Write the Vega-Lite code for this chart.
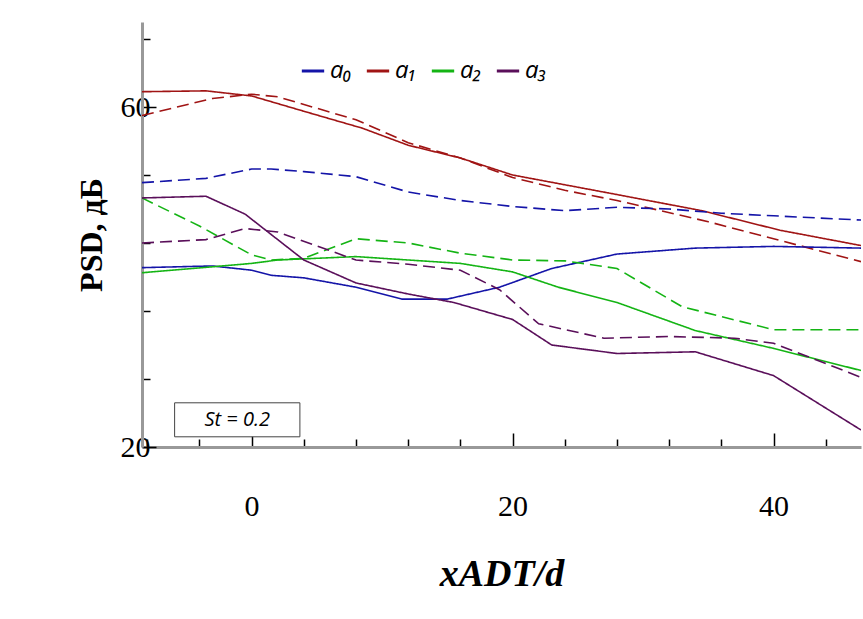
{
  "$schema": "https://vega.github.io/schema/vega-lite/v6.json",
  "autosize": "none",
  "width": 719,
  "height": 425,
  "padding": {"left": 142, "top": 22, "right": 2, "bottom": 172},
  "background": "white",
  "config": {"view": {"stroke": null}},
  "datasets": {
    "lines": [
      {"s": "a₁", "st": "solid", "x": -8.4, "y": 61.8}, {"s": "a₁", "st": "solid", "x": -3.5, "y": 61.9}, {"s": "a₁", "st": "solid", "x": 0, "y": 61.3}, {"s": "a₁", "st": "solid", "x": 4, "y": 59.5}, {"s": "a₁", "st": "solid", "x": 8.5, "y": 57.5}, {"s": "a₁", "st": "solid", "x": 12, "y": 55.5}, {"s": "a₁", "st": "solid", "x": 16, "y": 54}, {"s": "a₁", "st": "solid", "x": 20, "y": 52}, {"s": "a₁", "st": "solid", "x": 28, "y": 49.7}, {"s": "a₁", "st": "solid", "x": 34.5, "y": 47.8}, {"s": "a₁", "st": "solid", "x": 40.5, "y": 45.5}, {"s": "a₁", "st": "solid", "x": 46.7, "y": 43.7},
      {"s": "a₁", "st": "dash", "x": -8.4, "y": 59}, {"s": "a₁", "st": "dash", "x": -3, "y": 61}, {"s": "a₁", "st": "dash", "x": 0, "y": 61.5}, {"s": "a₁", "st": "dash", "x": 2, "y": 61.2}, {"s": "a₁", "st": "dash", "x": 8, "y": 58.5}, {"s": "a₁", "st": "dash", "x": 12, "y": 55.8}, {"s": "a₁", "st": "dash", "x": 16, "y": 54}, {"s": "a₁", "st": "dash", "x": 20, "y": 51.7}, {"s": "a₁", "st": "dash", "x": 24, "y": 50.2}, {"s": "a₁", "st": "dash", "x": 28, "y": 49}, {"s": "a₁", "st": "dash", "x": 35, "y": 46.5}, {"s": "a₁", "st": "dash", "x": 40, "y": 44.5}, {"s": "a₁", "st": "dash", "x": 46.7, "y": 41.8},
      {"s": "a₀", "st": "solid", "x": -8.4, "y": 41.1}, {"s": "a₀", "st": "solid", "x": -3, "y": 41.3}, {"s": "a₀", "st": "solid", "x": 0, "y": 40.8}, {"s": "a₀", "st": "solid", "x": 1.5, "y": 40.2}, {"s": "a₀", "st": "solid", "x": 4, "y": 39.9}, {"s": "a₀", "st": "solid", "x": 8, "y": 38.8}, {"s": "a₀", "st": "solid", "x": 11.5, "y": 37.4}, {"s": "a₀", "st": "solid", "x": 15, "y": 37.4}, {"s": "a₀", "st": "solid", "x": 19, "y": 38.8}, {"s": "a₀", "st": "solid", "x": 23, "y": 41}, {"s": "a₀", "st": "solid", "x": 28, "y": 42.7}, {"s": "a₀", "st": "solid", "x": 34, "y": 43.4}, {"s": "a₀", "st": "solid", "x": 40, "y": 43.6}, {"s": "a₀", "st": "solid", "x": 46.7, "y": 43.4},
      {"s": "a₀", "st": "dash", "x": -8.4, "y": 51.1}, {"s": "a₀", "st": "dash", "x": -3.5, "y": 51.6}, {"s": "a₀", "st": "dash", "x": 0, "y": 52.7}, {"s": "a₀", "st": "dash", "x": 1.5, "y": 52.7}, {"s": "a₀", "st": "dash", "x": 4, "y": 52.4}, {"s": "a₀", "st": "dash", "x": 8, "y": 51.8}, {"s": "a₀", "st": "dash", "x": 12, "y": 50}, {"s": "a₀", "st": "dash", "x": 16, "y": 49}, {"s": "a₀", "st": "dash", "x": 20, "y": 48.3}, {"s": "a₀", "st": "dash", "x": 24, "y": 47.8}, {"s": "a₀", "st": "dash", "x": 28, "y": 48.2}, {"s": "a₀", "st": "dash", "x": 32, "y": 48}, {"s": "a₀", "st": "dash", "x": 36, "y": 47.5}, {"s": "a₀", "st": "dash", "x": 40, "y": 47.2}, {"s": "a₀", "st": "dash", "x": 46.7, "y": 46.7},
      {"s": "a₂", "st": "solid", "x": -8.4, "y": 40.5}, {"s": "a₂", "st": "solid", "x": -3, "y": 41.2}, {"s": "a₂", "st": "solid", "x": 0, "y": 41.6}, {"s": "a₂", "st": "solid", "x": 2, "y": 42}, {"s": "a₂", "st": "solid", "x": 8, "y": 42.4}, {"s": "a₂", "st": "solid", "x": 12, "y": 42}, {"s": "a₂", "st": "solid", "x": 16, "y": 41.6}, {"s": "a₂", "st": "solid", "x": 20, "y": 40.6}, {"s": "a₂", "st": "solid", "x": 23.5, "y": 38.8}, {"s": "a₂", "st": "solid", "x": 28, "y": 37}, {"s": "a₂", "st": "solid", "x": 34, "y": 33.7}, {"s": "a₂", "st": "solid", "x": 40, "y": 31.6}, {"s": "a₂", "st": "solid", "x": 46.7, "y": 29},
      {"s": "a₂", "st": "dash", "x": -8.4, "y": 49.3}, {"s": "a₂", "st": "dash", "x": -4, "y": 46}, {"s": "a₂", "st": "dash", "x": 0, "y": 42.6}, {"s": "a₂", "st": "dash", "x": 1.5, "y": 42}, {"s": "a₂", "st": "dash", "x": 4, "y": 42.2}, {"s": "a₂", "st": "dash", "x": 8, "y": 44.5}, {"s": "a₂", "st": "dash", "x": 12, "y": 44}, {"s": "a₂", "st": "dash", "x": 16, "y": 42.8}, {"s": "a₂", "st": "dash", "x": 20, "y": 42}, {"s": "a₂", "st": "dash", "x": 24, "y": 41.9}, {"s": "a₂", "st": "dash", "x": 28, "y": 41}, {"s": "a₂", "st": "dash", "x": 33, "y": 36.5}, {"s": "a₂", "st": "dash", "x": 40, "y": 33.8}, {"s": "a₂", "st": "dash", "x": 46.7, "y": 33.8},
      {"s": "a₃", "st": "solid", "x": -8.4, "y": 49.3}, {"s": "a₃", "st": "solid", "x": -3.5, "y": 49.5}, {"s": "a₃", "st": "solid", "x": -0.5, "y": 47.4}, {"s": "a₃", "st": "solid", "x": 1.5, "y": 45}, {"s": "a₃", "st": "solid", "x": 4, "y": 42}, {"s": "a₃", "st": "solid", "x": 8, "y": 39.3}, {"s": "a₃", "st": "solid", "x": 12, "y": 38}, {"s": "a₃", "st": "solid", "x": 15.5, "y": 37}, {"s": "a₃", "st": "solid", "x": 20, "y": 35}, {"s": "a₃", "st": "solid", "x": 23, "y": 32}, {"s": "a₃", "st": "solid", "x": 28, "y": 31}, {"s": "a₃", "st": "solid", "x": 34, "y": 31.2}, {"s": "a₃", "st": "solid", "x": 40, "y": 28.4}, {"s": "a₃", "st": "solid", "x": 46.7, "y": 22},
      {"s": "a₃", "st": "dash", "x": -8.4, "y": 44}, {"s": "a₃", "st": "dash", "x": -3.5, "y": 44.4}, {"s": "a₃", "st": "dash", "x": -0.5, "y": 45.7}, {"s": "a₃", "st": "dash", "x": 2, "y": 45.3}, {"s": "a₃", "st": "dash", "x": 8, "y": 42}, {"s": "a₃", "st": "dash", "x": 12, "y": 41.5}, {"s": "a₃", "st": "dash", "x": 16, "y": 40.8}, {"s": "a₃", "st": "dash", "x": 19, "y": 38.5}, {"s": "a₃", "st": "dash", "x": 22, "y": 34.5}, {"s": "a₃", "st": "dash", "x": 27, "y": 32.8}, {"s": "a₃", "st": "dash", "x": 32, "y": 33}, {"s": "a₃", "st": "dash", "x": 37, "y": 32.8}, {"s": "a₃", "st": "dash", "x": 40, "y": 32.2}, {"s": "a₃", "st": "dash", "x": 46.7, "y": 28.2}
    ],
    "box": [{"x": -5.9, "x2": 3.7, "y": 21.2, "y2": 25.2, "label": "St = 0.2"}]
  },
  "layer": [
    {
      "data": {"name": "lines"},
      "mark": {"type": "line", "strokeWidth": 1.6, "clip": true},
      "encoding": {
        "x": {
          "field": "x", "type": "quantitative",
          "scale": {"domain": [-8.4, 46.7], "nice": false, "zero": false},
          "axis": {
            "values": [-8, -6, -4, -2, 0, 2, 4, 6, 8, 10, 12, 14, 16, 18, 20, 22, 24, 26, 28, 30, 32, 34, 36, 38, 40, 42, 44, 46],
            "labelExpr": "datum.value % 10 === 0 ? datum.label : ''",
            "labelOverlap": false, "labelFlush": false, "labelBound": false,
            "title": "xADT/d",
            "titleFont": "Liberation Serif", "titleFontSize": 38, "titleFontWeight": "bold", "titleFontStyle": "italic", "titlePadding": 28,
            "labelFont": "Liberation Serif", "labelFontSize": 30, "labelPadding": 58, "labelColor": "black",
            "grid": false, "domainColor": "#999999", "domainWidth": 3, "tickColor": "black",
            "tickSize": {"condition": {"test": "datum.value % 10 === 0", "value": -14}, "value": -8},
            "tickWidth": 1.5
          }
        },
        "y": {
          "field": "y", "type": "quantitative",
          "scale": {"domain": [20, 70], "nice": false, "zero": false},
          "axis": {
            "values": [20, 22, 24, 26, 28, 30, 32, 34, 36, 38, 40, 42, 44, 46, 48, 50, 52, 54, 56, 58, 60, 62, 64, 66, 68, 70],
            "labelExpr": "datum.value % 10 === 0 ? datum.label : ''",
            "labelOverlap": false, "labelFlush": false, "labelBound": false,
            "title": "PSD, дБ",
            "titleFont": "Liberation Serif", "titleFontSize": 32, "titleFontWeight": "bold", "titlePadding": 12,
            "labelFont": "Liberation Serif", "labelFontSize": 30, "labelPadding": 6, "labelColor": "black",
            "grid": false, "domainColor": "#999999", "domainWidth": 3, "tickColor": "black",
            "tickSize": {"condition": {"test": "datum.value % 10 === 0", "value": -14}, "value": -8},
            "tickWidth": 1.5
          }
        },
        "color": {
          "field": "s", "type": "nominal",
          "scale": {"domain": ["a₀", "a₁", "a₂", "a₃"], "range": ["#1414a8", "#a01414", "#14b414", "#5a0f5a"]},
          "legend": {
            "title": null, "orient": "none", "legendX": 158, "legendY": 36, "direction": "horizontal",
            "symbolType": "stroke", "symbolStrokeWidth": 3, "symbolSize": 500,
            "labelFont": "Open Sans", "labelFontSize": 24, "labelFontStyle": "italic", "labelColor": "black",
            "columnPadding": 8, "labelOffset": 4
          }
        },
        "strokeDash": {
          "field": "st", "type": "nominal",
          "scale": {"domain": ["solid", "dash"], "range": [[1, 0], [12, 6]]},
          "legend": null
        },
        "detail": {"field": "st"}
      }
    },
    {
      "data": {"name": "box"},
      "mark": {"type": "rect", "fill": "white", "stroke": "#444444", "strokeWidth": 1},
      "encoding": {
        "x": {"field": "x", "type": "quantitative"},
        "x2": {"field": "x2"},
        "y": {"field": "y", "type": "quantitative"},
        "y2": {"field": "y2"}
      }
    },
    {
      "data": {"name": "box"},
      "mark": {"type": "text", "font": "Open Sans", "fontSize": 20, "fontStyle": "italic", "color": "black"},
      "encoding": {
        "x": {"datum": -1.1, "type": "quantitative"},
        "y": {"datum": 23.2, "type": "quantitative"},
        "text": {"field": "label"}
      }
    }
  ]
}
